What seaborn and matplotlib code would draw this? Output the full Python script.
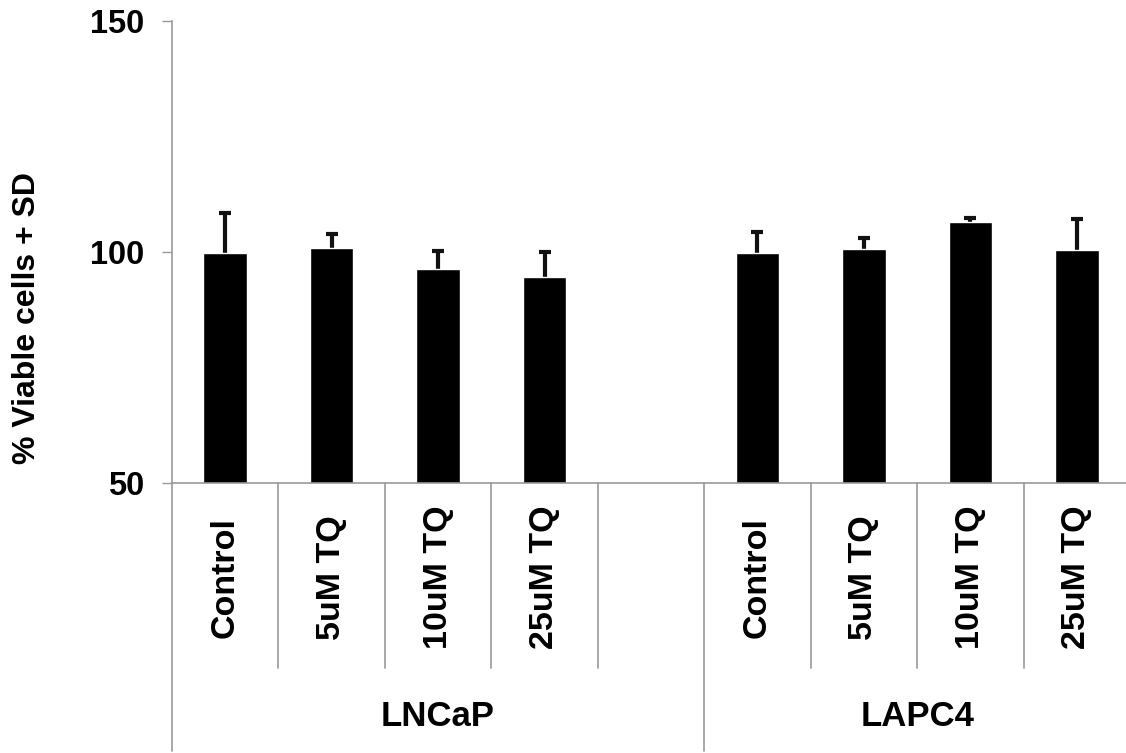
import numpy as np
import pandas as pd
import seaborn as sns
import matplotlib.pyplot as plt
from matplotlib.transforms import blended_transform_factory

# data
treatments = ['Control', '5uM TQ', '10uM TQ', '25uM TQ']
lncap_mean = [99.8, 100.8, 96.4, 94.5]
lncap_sd = [8.6, 3.1, 3.8, 5.4]
lapc4_mean = [99.7, 100.6, 106.6, 100.4]
lapc4_sd = [4.6, 2.5, 0.7, 6.7]
groups = ['LNCaP', 'LAPC4']

rows = []
for g, means, sds in [('LNCaP', lncap_mean, lncap_sd), ('LAPC4', lapc4_mean, lapc4_sd)]:
    for t, m, s in zip(treatments, means, sds):
        rows.append({'slot': g + ' ' + t, 'group': g, 'treatment': t, 'viable': m, 'sd': s})
df = pd.DataFrame(rows)

# empty slot between the two cell lines
order = ['LNCaP ' + t for t in treatments] + ['gap'] + ['LAPC4 ' + t for t in treatments]

sns.set_style('white')
plt.rcParams['font.family'] = ['Liberation Sans', 'DejaVu Sans']
plt.rcParams['font.weight'] = 'bold'
plt.rcParams['text.color'] = 'black'
plt.rcParams['ytick.labelcolor'] = 'black'

fig = plt.figure(figsize=(11.26, 7.53), dpi=100)
ax = fig.add_axes([172 / 1126, 270 / 753, 958 / 1126, 462 / 753])

sns.barplot(data=df, x='slot', y='viable', order=order, color='black',
            saturation=1, width=0.41, errorbar=None, ax=ax, zorder=2)

# only the upper (+SD) whisker is shown
xpos = [order.index(s) for s in df['slot']]
eb = ax.errorbar(xpos, df['viable'], yerr=[np.zeros(len(df)), df['sd']], fmt='none',
                 ecolor='#111111', elinewidth=3, capsize=4, capthick=3, zorder=1)
eb[1][0].set_visible(False)

ax.set_ylim(50, 150)
ax.set_yticks([50, 100, 150])
ax.set_xlim(-0.5, len(order) - 0.5)
ax.tick_params(axis='y', labelsize=23.5, length=7, width=1, color='#999999',
               labelcolor='black', direction='out', pad=13, left=True)
for lab in ax.get_yticklabels():
    lab.set_fontweight('bold')
ax.set_xticks([])
ax.set_xlabel('')
ax.set_ylabel('')
for side in ['top', 'right']:
    ax.spines[side].set_visible(False)
for side in ['left', 'bottom']:
    ax.spines[side].set_color('#999999')
    ax.spines[side].set_linewidth(1.2)

trans = blended_transform_factory(ax.transData, ax.transAxes)

# category separators and group separators below the axis
for i in range(len(order)):
    edge = i - 0.5
    if i == 0 or order[i - 1] == 'gap':
        bottom = -0.58
    else:
        bottom = -0.40
    ax.plot([edge, edge], [0, bottom], transform=trans, clip_on=False,
            color='#999999', lw=1.2)
ax.plot([len(order) - 0.5] * 2, [0, -0.58], transform=trans, clip_on=False,
        color='#999999', lw=1.2)

# treatment labels
for s in df['slot']:
    i = order.index(s)
    ax.text(i, -0.205, s.split(' ', 1)[1], transform=trans, rotation=90,
            ha='center', va='center', fontsize=24.5, fontweight='bold', color='black')

# cell line labels
for g in groups:
    idx = [order.index(s) for s in df.loc[df['group'] == g, 'slot']]
    if g == 'LNCaP':
        center = (min(idx) - 0.5 + order.index('gap') + 0.5) / 2
    else:
        center = (order.index('gap') + 0.5 + max(idx) + 0.5) / 2
    ax.text(center, -0.505, g, transform=trans, ha='center', va='center',
            fontsize=25, fontweight='bold', color='black')

fig.text(27 / 1126, 1 - 318 / 753, '% Viable cells + SD', rotation=90,
         ha='center', va='center', fontsize=23, fontweight='bold', color='black')

fig.savefig('out.png', dpi=100)
